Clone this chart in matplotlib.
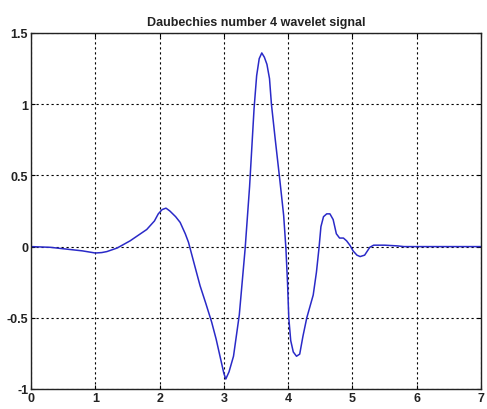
import matplotlib
matplotlib.use("Agg")
import matplotlib.pyplot as plt

# Daubechies-4 wavelet samples (t, psi)
t = [0.0, 0.3, 0.6, 0.8, 1.0, 1.10, 1.18, 1.34, 1.54, 1.80, 1.92, 1.98, 2.04,
     2.10, 2.16, 2.25, 2.32, 2.40, 2.45, 2.55, 2.63, 2.72, 2.81, 2.88, 2.94,
     3.00, 3.03, 3.08, 3.15, 3.24, 3.33, 3.40, 3.47, 3.51, 3.55, 3.59, 3.63,
     3.67, 3.71, 3.74, 3.80, 3.87, 3.93, 3.965, 3.99, 4.01, 4.04, 4.08, 4.13,
     4.18, 4.23, 4.29, 4.34, 4.39, 4.44, 4.48, 4.51, 4.55, 4.60, 4.65, 4.70,
     4.75, 4.80, 4.86, 4.91, 4.96, 5.01, 5.07, 5.12, 5.19, 5.27, 5.33, 5.50,
     5.70, 5.80, 7.0]
psi = [0.0, -0.005, -0.02, -0.03, -0.045, -0.042, -0.035, -0.01, 0.04, 0.12,
       0.18, 0.23, 0.26, 0.27, 0.25, 0.21, 0.17, 0.09, 0.03, -0.14, -0.275,
       -0.40, -0.53, -0.65, -0.77, -0.89, -0.93, -0.88, -0.77, -0.48, -0.02,
       0.42, 0.97, 1.20, 1.32, 1.36, 1.33, 1.28, 1.18, 1.00, 0.75, 0.47, 0.22,
       -0.01, -0.25, -0.50, -0.66, -0.74, -0.77, -0.755, -0.63, -0.50, -0.42,
       -0.34, -0.18, -0.01, 0.14, 0.21, 0.23, 0.23, 0.19, 0.09, 0.06, 0.06,
       0.04, 0.01, -0.03, -0.06, -0.07, -0.06, -0.005, 0.01, 0.01, 0.005, 0.0,
       0.0]

xticks = [0, 1, 2, 3, 4, 5, 6, 7]
yticks = [-1, -0.5, 0, 0.5, 1, 1.5]
ytick_labels = ["-1", "-0.5", "0", "0.5", "1", "1.5"]

plt.rcParams["font.family"] = ["Liberation Sans", "DejaVu Sans"]

fig = plt.figure(figsize=(4.87, 4.10), dpi=100)
ax = fig.add_axes([31 / 487, 20 / 410, 450 / 487, 356 / 410])

ax.plot(t, psi, color="#2a2ac8", lw=1.1, solid_joinstyle="round")

ax.set_xlim(0, 7)
ax.set_ylim(-1, 1.5)
ax.set_xticks(xticks)
ax.set_xticklabels([str(v) for v in xticks])
ax.set_yticks(yticks)
ax.set_yticklabels(ytick_labels)
ax.tick_params(direction="in", length=3, width=0.8, labelsize=9, pad=2,
               top=True, right=True)
for lbl in ax.get_xticklabels() + ax.get_yticklabels():
    lbl.set_fontweight("bold")
    lbl.set_color("#222222")
ax.grid(True, color="black", linestyle=(0, (2, 2.5)), linewidth=0.8)
for s in ax.spines.values():
    s.set_linewidth(1.0)
    s.set_color("#222222")

ax.set_title("Daubechies number 4 wavelet signal", fontsize=9,
             fontweight="bold", color="#222222", pad=6)

fig.savefig("out.png", dpi=100)
